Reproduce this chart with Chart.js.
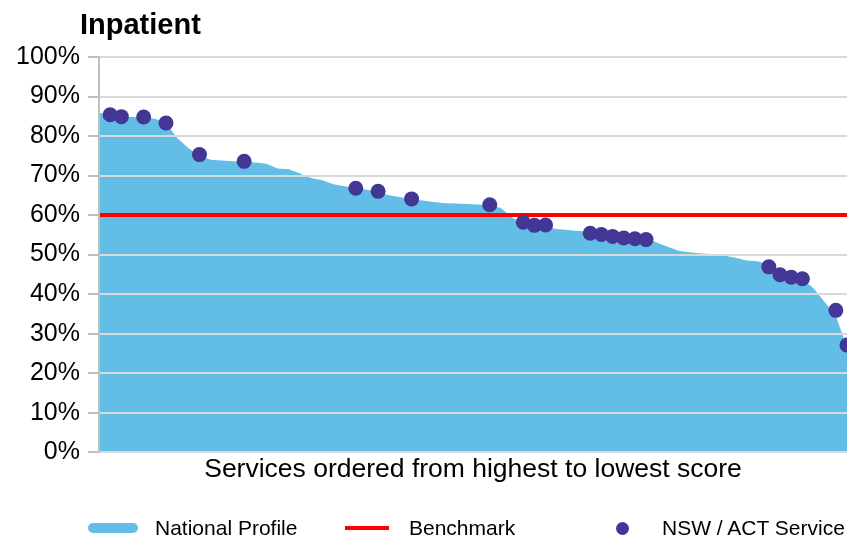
<!DOCTYPE html>
<html>
<head>
<meta charset="utf-8">
<script src="https://cdn.jsdelivr.net/npm/chart.js@4"></script>
<style>
  body { margin: 0; background: #fff; }
  #wrap { position: relative; width: 847px; height: 540px; overflow: hidden; font-family: "Liberation Sans", Arial, sans-serif; }
  #title { position: absolute; left: 80px; top: 10px; font-size: 29px; line-height: 29px; font-weight: bold; color: #000; }
  #legend span { position: absolute; white-space: nowrap; }
  .lbl { font-size: 21px; line-height: 21px; top: 517px; color: #000; }
</style>
</head>
<body>
<div id="wrap">
  <canvas id="chart" width="847" height="540"></canvas>
  <div id="title">Inpatient</div>
  <div id="legend">
    <span style="left:88px;top:523px;width:50px;height:10px;border-radius:5px;background:#62bee6"></span>
    <span class="lbl" style="left:155px">National Profile</span>
    <span style="left:345px;top:526px;width:44px;height:4px;background:#ff0000"></span>
    <span class="lbl" style="left:409px">Benchmark</span>
    <span style="left:616px;top:522px;width:13px;height:13px;border-radius:50%;background:#433795"></span>
    <span class="lbl" style="left:662px">NSW / ACT Service</span>
  </div>
</div>
<script>
// National profile, services ordered from highest to lowest score (%)
const nationalProfile = [
  85.9, 85.4, 84.9, 84.8, 84.7, 84.4, 83.3, 79.5, 77.0, 75.0,
  74.0, 73.8, 73.6, 73.5, 73.3, 73.0, 71.8, 71.6, 70.5, 69.4,
  68.8, 67.8, 67.3, 66.8, 66.4, 65.8, 65.0, 64.5, 64.0, 63.7,
  63.3, 63.0, 62.9, 62.8, 62.7, 62.4, 61.8, 59.3, 58.0, 57.3,
  57.0, 56.5, 56.2, 56.0, 55.8, 55.5, 55.2, 55.0, 54.7, 54.3,
  53.0, 51.9, 50.9, 50.5, 50.3, 50.1, 49.8, 49.2, 48.5, 48.3,
  47.5, 45.5, 44.5, 43.8, 41.5, 38.0, 34.5, 26.5
];

// NSW / ACT services: rank position and score
const serviceRanks = [1, 2, 4, 6, 9, 13, 23, 25, 28, 35, 38, 39, 40, 44, 45, 46, 47, 48, 49, 60, 61, 62, 63, 66, 67];
const serviceScores = [85.4, 84.9, 84.8, 83.3, 75.3, 73.6, 66.8, 66.0, 64.1, 62.6, 58.2, 57.4, 57.5, 55.4, 55.1, 54.6, 54.2, 54.0, 53.8, 46.9, 44.9, 44.3, 43.9, 35.9, 27.1];

const benchmark = 60;
const yTickLabels = ["0%", "10%", "20%", "30%", "40%", "50%", "60%", "70%", "80%", "90%", "100%"];

const lastRank = nationalProfile.length - 1;

new Chart(document.getElementById("chart"), {
    type: "line",
    data: {
        datasets: [
            {
                label: "NSW / ACT Service",
                data: serviceRanks.map((r, i) => ({ x: r, y: serviceScores[i] })),
                showLine: false,
                pointRadius: 7.5,
                pointBackgroundColor: "#433795",
                pointBorderWidth: 0,
                clip: false,
                order: 1
            },
            {
                label: "Benchmark",
                data: [{ x: 0, y: benchmark }, { x: lastRank, y: benchmark }],
                borderColor: "#ff0000",
                borderWidth: 4,
                pointRadius: 0,
                order: 2
            },
            {
                label: "National Profile",
                data: nationalProfile.map((v, i) => ({ x: i, y: v })),
                borderWidth: 0,
                borderColor: "#62bee6",
                backgroundColor: "#62bee6",
                fill: "origin",
                pointRadius: 0,
                tension: 0,
                order: 3
            }
        ]
    },
    options: {
        responsive: false,
        animation: false,
        layout: { autoPadding: false, padding: { left: 0, right: 0, top: 57, bottom: 54 } },
        plugins: {
            legend: { display: false },
            tooltip: { enabled: false },
            title: { display: false }
        },
        scales: {
            x: {
                type: "linear",
                min: 0,
                max: lastRank,
                grid: { display: false, drawTicks: false },
                border: { display: false },
                ticks: { display: false },
                title: {
                    display: true,
                    text: "Services ordered from highest to lowest score",
                    color: "#000",
                    font: { family: "Liberation Sans", size: 26.5 },
                    padding: { top: 2, bottom: 0 }
                }
            },
            y: {
                min: 0,
                max: 100,
                afterFit: (scale) => { scale.width = 99; },
                ticks: {
                    stepSize: 10,
                    padding: 8,
                    color: "#000",
                    font: { family: "Liberation Sans", size: 25 },
                    callback: (v, i) => yTickLabels[i]
                },
                grid: {
                    z: 1,
                    color: (ctx) => (ctx.tick && ctx.tick.value === benchmark) ? "rgba(0,0,0,0)" : "#d9d9d9",
                    lineWidth: 2,
                    tickLength: 11,
                    tickColor: "#bfbfbf"
                },
                border: { z: 1, color: "#bfbfbf", width: 2 }
            }
        }
    }
});
</script>
</body>
</html>
